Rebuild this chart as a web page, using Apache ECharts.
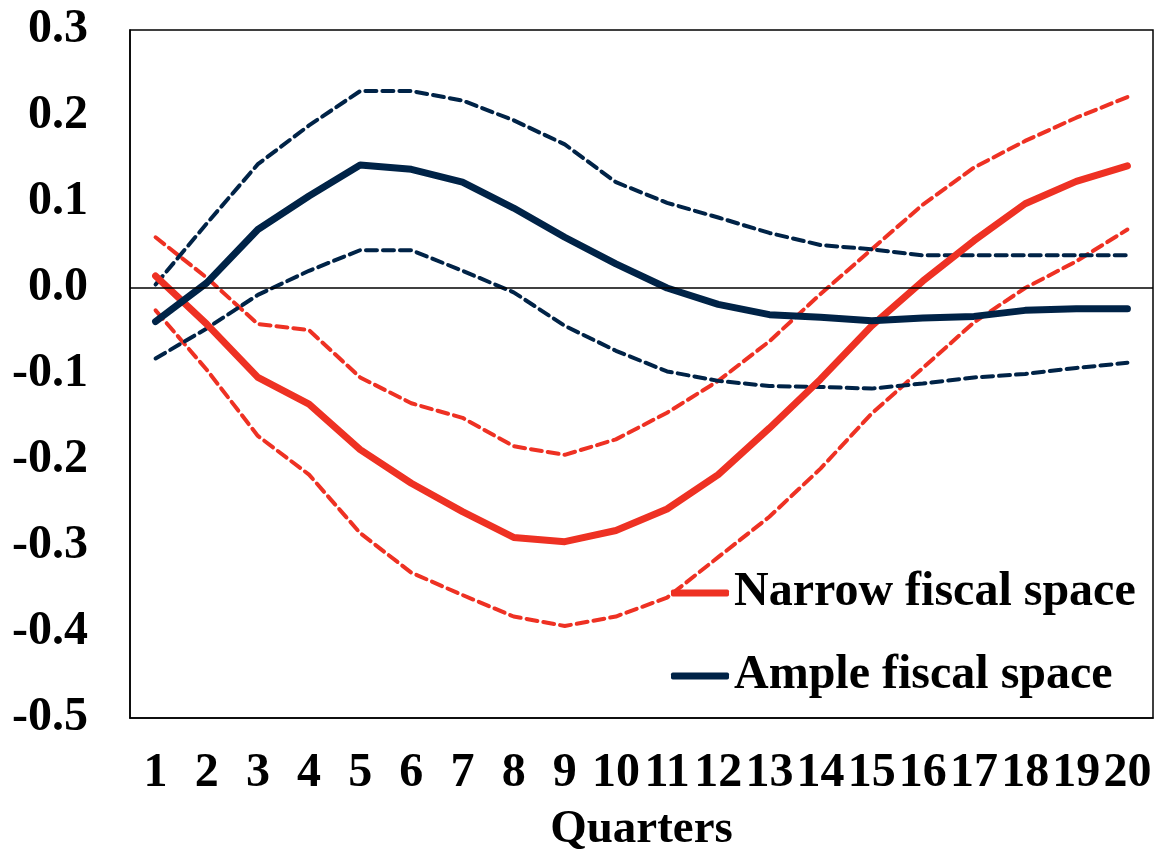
<!DOCTYPE html>
<html>
<head>
<meta charset="utf-8">
<script src="https://cdn.jsdelivr.net/npm/echarts@6/dist/echarts.min.js"></script>
<style>
  html, body { margin: 0; padding: 0; background: #fff; }
  #chart { width: 1155px; height: 852px; }
</style>
</head>
<body>
<div id="chart"></div>
<script>
const quarters = ['1', '2', '3', '4', '5', '6', '7', '8', '9', '10', '11', '12', '13', '14', '15', '16', '17', '18', '19', '20']

// narrow fiscal space: point estimate and bands
const narrow = [0.014, -0.042, -0.104, -0.135, -0.188, -0.227, -0.260, -0.290, -0.295, -0.282, -0.257, -0.217, -0.163, -0.106, -0.044, 0.008, 0.055, 0.098, 0.124, 0.142]
const narrowUpper = [0.059, 0.012, -0.042, -0.049, -0.104, -0.134, -0.151, -0.184, -0.194, -0.176, -0.145, -0.108, -0.062, -0.007, 0.045, 0.097, 0.140, 0.171, 0.198, 0.222]
const narrowLower = [-0.026, -0.095, -0.172, -0.217, -0.285, -0.331, -0.357, -0.382, -0.393, -0.382, -0.360, -0.313, -0.266, -0.210, -0.146, -0.093, -0.040, 0.000, 0.031, 0.068]

// ample fiscal space
const ample = [-0.039, 0.006, 0.068, 0.107, 0.143, 0.138, 0.123, 0.093, 0.059, 0.028, 0.000, -0.019, -0.031, -0.034, -0.038, -0.035, -0.033, -0.026, -0.024, -0.024]
const ampleUpper = [0.004, 0.075, 0.144, 0.189, 0.229, 0.229, 0.218, 0.195, 0.167, 0.123, 0.099, 0.082, 0.064, 0.050, 0.045, 0.038, 0.038, 0.038, 0.038, 0.038]
const ampleLower = [-0.082, -0.047, -0.008, 0.020, 0.044, 0.044, 0.020, -0.005, -0.044, -0.073, -0.097, -0.108, -0.114, -0.115, -0.117, -0.111, -0.104, -0.100, -0.093, -0.087]

const RED = '#EE3123'
const NAVY = '#002347'
const FONT = "'Liberation Serif', 'Times New Roman', serif"

function solid(name, data, color) {
  return {
    name: name,
    type: 'line',
    data: data,
    symbol: 'none',
    silent: true,
    z: 3,
    lineStyle: { color: color, width: 7, cap: 'round', join: 'round' },
    itemStyle: { color: color }
  }
}

function dashed(name, data, color) {
  return {
    name: name,
    type: 'line',
    data: data,
    symbol: 'none',
    silent: true,
    z: 2,
    lineStyle: { color: color, width: 4, type: [11, 6], cap: 'round' }
  }
}

const chart = echarts.init(document.getElementById('chart'))

const series = [
  dashed('nu', narrowUpper, RED),
  dashed('nl', narrowLower, RED),
  dashed('au', ampleUpper, NAVY),
  dashed('al', ampleLower, NAVY),
  solid('Narrow fiscal space', narrow, RED),
  solid('Ample fiscal space', ample, NAVY)
]
// zero line
series[0].markLine = {
  silent: true,
  symbol: 'none',
  label: { show: false },
  lineStyle: { color: '#000', width: 1.5, type: 'solid' },
  data: [{ yAxis: 0 }]
}

chart.setOption({
  animation: false,
  backgroundColor: '#fff',
  textStyle: { fontFamily: FONT },
  grid: {
    left: 130,
    right: 2,
    top: 30,
    bottom: 134,
    outerBoundsMode: 'none',
    containLabel: false,
    show: true,
    borderColor: '#000',
    borderWidth: 1.5
  },
  legend: {
    data: ['Narrow fiscal space', 'Ample fiscal space'],
    orient: 'vertical',
    left: 666,
    top: 564,
    itemWidth: 58,
    itemHeight: 7,
    itemGap: 35,
    icon: 'roundRect',
    textStyle: { fontFamily: FONT, fontWeight: 'bold', fontSize: 48, color: '#000' }
  },
  xAxis: {
    type: 'category',
    data: quarters,
    name: 'Quarters',
    nameLocation: 'middle',
    nameGap: 88,
    nameTextStyle: { fontFamily: FONT, fontWeight: 'bold', fontSize: 47, color: '#000' },
    axisLine: { onZero: false, lineStyle: { color: '#000', width: 1.5 } },
    axisTick: { show: false },
    axisLabel: { fontFamily: FONT, fontWeight: 'bold', fontSize: 48, color: '#000', margin: 32, interval: 0 }
  },
  yAxis: {
    type: 'value',
    min: -0.5,
    max: 0.3,
    interval: 0.1,
    splitLine: { show: false },
    axisLine: { show: true, lineStyle: { color: '#000', width: 1.5 } },
    axisTick: { show: false },
    axisLabel: {
      fontFamily: FONT,
      fontWeight: 'bold',
      fontSize: 48,
      color: '#000',
      margin: 42,
      formatter: function(v) {
        return v.toFixed(1)
      }
    }
  },
  series: series
})
</script>
</body>
</html>
